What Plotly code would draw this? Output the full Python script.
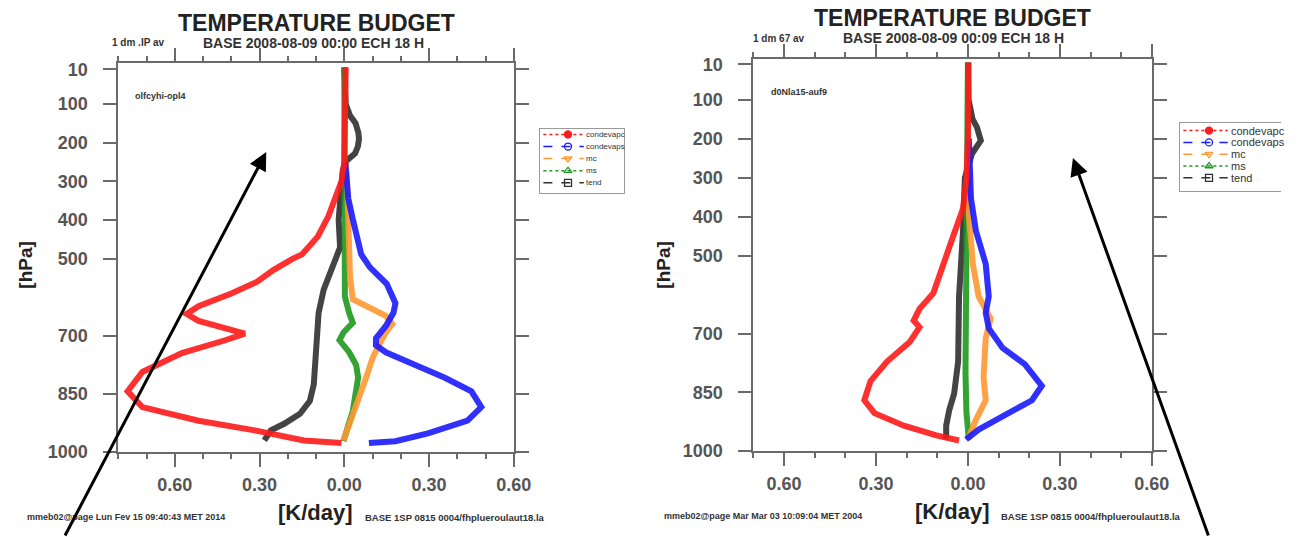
import plotly.graph_objects as go

# ---------------- data (pressure in hPa, tendency in K/day) ----------------
# left panel
L_condevapc_p = [5, 50, 100, 150, 200, 250, 300, 344, 390, 443, 489, 501, 529, 560, 590, 623, 643, 661, 694, 711, 744, 793, 843, 884, 919, 944, 970, 977]
L_condevapc_v = [0.005, 0.005, 0.004, 0.004, 0.003, 0.0, -0.01, -0.03, -0.056, -0.094, -0.15, -0.185, -0.25, -0.31, -0.40, -0.516, -0.558, -0.516, -0.352, -0.422, -0.575, -0.715, -0.767, -0.715, -0.516, -0.317, -0.143, -0.010]
L_condevaps_p = [250, 300, 344, 398, 450, 489, 522, 565, 615, 640, 674, 706, 724, 742, 775, 808, 843, 884, 919, 952, 972, 977]
L_condevaps_v = [0.003, 0.008, 0.014, 0.03, 0.045, 0.06, 0.09, 0.15, 0.181, 0.174, 0.147, 0.112, 0.112, 0.147, 0.251, 0.356, 0.45, 0.485, 0.436, 0.296, 0.181, 0.087]
L_mc_p = [250, 300, 398, 471, 544, 605, 630, 648, 669, 691, 724, 757, 808, 858, 909, 970]
L_mc_v = [0.005, 0.01, 0.014, 0.017, 0.02, 0.03, 0.1, 0.147, 0.17, 0.147, 0.122, 0.1, 0.077, 0.052, 0.03, -0.003]
L_ms_p = [5, 100, 200, 300, 400, 471, 555, 598, 640, 666, 691, 711, 742, 775, 808, 851, 894, 934, 972]
L_ms_v = [0.0, 0.0, 0.0, 0.0, 0.0, 0.0, 0.0, 0.002, 0.017, 0.03, -0.003, -0.017, 0.017, 0.042, 0.049, 0.042, 0.03, 0.013, -0.003]
L_tend_p = [5, 50, 100, 130, 150, 175, 190, 210, 228, 245, 270, 326, 400, 471, 496, 539, 580, 640, 706, 749, 825, 868, 901, 927, 944, 970]
L_tend_v = [0.0, 0.0, 0.005, 0.02, 0.04, 0.05, 0.052, 0.048, 0.038, 0.01, -0.005, -0.012, -0.02, -0.015, -0.028, -0.052, -0.073, -0.091, -0.098, -0.105, -0.108, -0.122, -0.157, -0.213, -0.26, -0.283]

# right panel
R_condevapc_p = [5, 100, 200, 300, 354, 379, 454, 546, 596, 636, 666, 683, 721, 771, 821, 870, 903, 935, 960, 973]
R_condevapc_v = [0.002, 0.002, 0.0, -0.005, -0.01, -0.016, -0.05, -0.09, -0.113, -0.158, -0.177, -0.158, -0.19, -0.264, -0.318, -0.338, -0.305, -0.209, -0.103, -0.029]
R_condevaps_p = [200, 300, 354, 436, 521, 604, 646, 686, 736, 778, 833, 870, 910, 945, 970]
R_condevaps_v = [0.003, 0.005, 0.01, 0.026, 0.058, 0.068, 0.058, 0.068, 0.113, 0.186, 0.241, 0.209, 0.113, 0.035, -0.006]
R_mc_p = [200, 300, 396, 521, 604, 661, 711, 811, 870, 920, 970]
R_mc_v = [0.002, 0.002, 0.003, 0.016, 0.035, 0.074, 0.058, 0.051, 0.058, 0.026, 0.0]
R_ms_p = [5, 200, 400, 600, 800, 900, 970]
R_ms_v = [0.0, -0.003, -0.006, -0.006, -0.008, -0.005, 0.003]
R_tend_p = [5, 100, 150, 170, 205, 239, 300, 436, 604, 771, 853, 895, 935, 970]
R_tend_v = [0.0, 0.002, 0.015, 0.029, 0.042, 0.013, -0.01, -0.016, -0.029, -0.032, -0.045, -0.061, -0.071, -0.071]

series_names = ["condevapc", "condevaps", "mc", "ms", "tend"]
colors = {"condevapc": "#ff1a1a", "condevaps": "#1a1aff", "mc": "#ff9933",
          "ms": "#1f9a1f", "tend": "#303030"}
dashes = {"condevapc": "dot", "condevaps": "dash", "mc": "dash", "ms": "dot", "tend": "dash"}
symbols = {"condevapc": "circle", "condevaps": "circle-open", "mc": "triangle-down-open",
           "ms": "triangle-up-open", "tend": "square-open"}

y_ticks = [10, 100, 200, 300, 400, 500, 700, 850, 1000]
x_ticks = [-0.6, -0.3, 0.0, 0.3, 0.6]
x_ticktext = ["0.60", "0.30", "0.00", "0.30", "0.60"]

left = {"condevapc": (L_condevapc_v, L_condevapc_p), "condevaps": (L_condevaps_v, L_condevaps_p),
        "mc": (L_mc_v, L_mc_p), "ms": (L_ms_v, L_ms_p), "tend": (L_tend_v, L_tend_p)}
right = {"condevapc": (R_condevapc_v, R_condevapc_p), "condevaps": (R_condevaps_v, R_condevaps_p),
         "mc": (R_mc_v, R_mc_p), "ms": (R_ms_v, R_ms_p), "tend": (R_tend_v, R_tend_p)}

W, H = 1299, 537
def px(x): return x / W
def py(y): return 1 - y / H

font = "Liberation Sans, Arial, sans-serif"
fig = go.Figure()
draw_order = ["tend", "ms", "mc", "condevaps", "condevapc"]
for panel, (xa, ya) in ((left, ("x", "y")), (right, ("x2", "y2"))):
    for n in draw_order:
        v, p = panel[n]
        fig.add_trace(go.Scatter(x=v, y=p, xaxis=xa, yaxis=ya, mode="lines",
                                 line=dict(color=colors[n], width=6), opacity=0.9,
                                 showlegend=False, hoverinfo="skip"))

# hand-built legends on small helper axes (one row per series index)
legend_specs = [
    # axes, sample line start/end, marker pos, text pos, font size
    (("x3", "y3"), 3, 44, 28, 45, 8),
    (("x4", "y4"), 3, 48, 29, 50, 11),
]
for (xa, ya), x0, x1, xm, xt, fs in legend_specs:
    for i, n in enumerate(series_names):
        fig.add_trace(go.Scatter(x=[x0, x1], y=[i, i], xaxis=xa, yaxis=ya, mode="lines",
                                 line=dict(color=colors[n], width=1.5, dash=dashes[n]),
                                 showlegend=False, hoverinfo="skip"))
        fig.add_trace(go.Scatter(x=[xm], y=[i], xaxis=xa, yaxis=ya, mode="markers",
                                 marker=dict(symbol=symbols[n], size=7, color=colors[n],
                                             line=dict(width=1.3, color=colors[n])),
                                 showlegend=False, hoverinfo="skip"))
        fig.add_annotation(x=xt, y=i, xref=xa, yref=ya, text=n, showarrow=False,
                           xanchor="left", yanchor="middle", borderpad=0,
                           font=dict(family=font, size=fs, color="#333333"))

axis_common = dict(showline=True, linecolor="#6a6a6a", linewidth=2, mirror="allticks",
                   ticks="outside", tickcolor="#6a6a6a", tickwidth=2, ticklen=13,
                   showgrid=False, zeroline=False,
                   tickfont=dict(family=font, size=18, color="#555555", weight="bold"))
legend_axis = dict(showline=True, linecolor="#9a9a9a", linewidth=1, showgrid=False,
                   zeroline=False, showticklabels=False, ticks="", fixedrange=True)
x_minor = dict(dtick=0.1, tick0=0, ticks="outside", ticklen=5, tickcolor="#6a6a6a", tickwidth=1.5)

fig.update_layout(
    width=W, height=H, margin=dict(l=0, r=0, t=0, b=0),
    paper_bgcolor="white", plot_bgcolor="white", showlegend=False,
    xaxis=dict(domain=[px(120), px(521)], anchor="y", range=[-0.8, 0.6],
               tickvals=x_ticks, ticktext=x_ticktext, minor=x_minor,
               ticklabelstandoff=2, **axis_common),
    yaxis=dict(domain=[py(460), py(61)], anchor="x", range=[1000, -5],
               tickvals=y_ticks, ticktext=[str(t) for t in y_ticks],
               ticklabelstandoff=12, **axis_common),
    xaxis2=dict(domain=[px(764), px(1168)], anchor="y2", range=[-0.7, 0.6],
                tickvals=x_ticks, ticktext=x_ticktext, minor=x_minor,
                ticklabelstandoff=2, **axis_common),
    yaxis2=dict(domain=[py(459), py(56)], anchor="x2", range=[1000, -5],
                tickvals=y_ticks, ticktext=[str(t) for t in y_ticks],
                ticklabelstandoff=12, **axis_common),
    xaxis3=dict(domain=[px(548), px(633)], anchor="y3", range=[0, 85], mirror=True, **legend_axis),
    yaxis3=dict(domain=[py(194), py(128)], anchor="x3", range=[4.84, -0.48], mirror=True, **legend_axis),
    xaxis4=dict(domain=[px(1197), 1.0], anchor="y4", range=[0, 102], mirror=True, **legend_axis),
    yaxis4=dict(domain=[py(192), py(122)], anchor="x4", range=[5.12, -0.66], mirror=False, **legend_axis),
)

def txt(x, y, s, size, anchor="center", angle=0, color="#222222", bold=True):
    fig.add_annotation(x=px(x), y=py(y), xref="paper", yref="paper", text=s, showarrow=False,
                       xanchor=anchor, yanchor="middle", textangle=angle, borderpad=0,
                       font=dict(family=font, size=size, color=color, weight="bold" if bold else "normal"))

# titles
txt(321, 19, "TEMPERATURE BUDGET", 23)
txt(966, 14, "TEMPERATURE BUDGET", 23)
txt(113, 40, "1 dm .IP av", 10, "left", color="#333333")
txt(318, 40, "BASE 2008-08-09 00:00 ECH 18 H", 14, color="#333333")
txt(763, 35, "1 dm 67 av", 10, "left", color="#333333")
txt(967, 35, "BASE 2008-08-09 00:09 ECH 18 H", 14, color="#333333")
# inner labels
txt(136, 94, "olfcyhi-opl4", 9, "left", color="#333333")
txt(781, 90, "d0Nla15-auf9", 9, "left", color="#333333")
# axis titles
txt(320, 522, "[K/day]", 22)
txt(966, 521, "[K/day]", 22)
txt(25, 268, "[hPa]", 19, angle=-90)
txt(672, 268, "[hPa]", 19, angle=-90)
# footers
txt(26, 527, "mmeb02@page Lun Fev 15 09:40:43 MET 2014", 9, "left", color="#333333")
txt(369, 527, "BASE 1SP 0815 0004/fhplueroulaut18.la", 9.5, "left", color="#333333")
txt(672, 526, "mmeb02@page Mar Mar 03 10:09:04 MET 2004", 9, "left", color="#333333")
txt(1014, 526, "BASE 1SP 0815 0004/fhplueroulaut18.la", 9.5, "left", color="#333333")

# overlay arrows
fig.add_annotation(x=px(270), y=py(152), xref="paper", yref="paper", text="", showarrow=True,
                   ax=-202, ay=398, arrowhead=2, arrowsize=1.2, arrowwidth=3, arrowcolor="black")
fig.add_annotation(x=px(1088), y=py(158), xref="paper", yref="paper", text="", showarrow=True,
                   ax=136, ay=392, arrowhead=2, arrowsize=1.2, arrowwidth=3, arrowcolor="black")

fig.write_html("out.html", config={"displayModeBar": False},
               post_script="document.body.style.margin='0px';document.body.style.overflow='hidden';")
